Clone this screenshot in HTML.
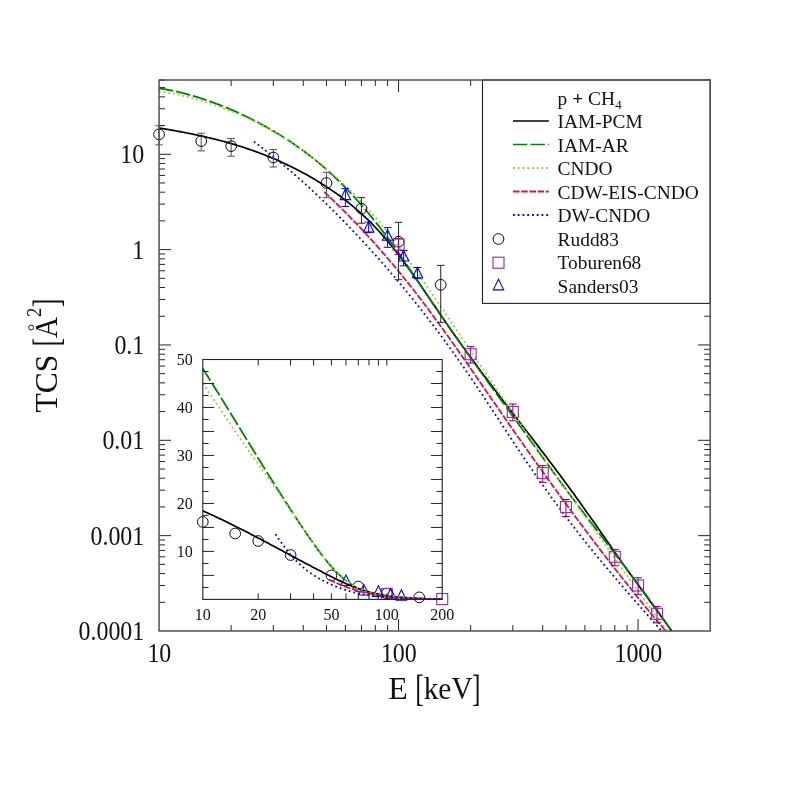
<!DOCTYPE html>
<html><head><meta charset="utf-8"><title>p + CH4 TCS</title>
<style>html,body{margin:0;padding:0;background:#fff;}svg{display:block;}text{font-family:"Liberation Serif",serif;fill:#111;}</style>
</head><body>
<svg width="790" height="790" viewBox="0 0 790 790" style="will-change:transform">
<rect x="0" y="0" width="790" height="790" fill="#fff"/>
<defs><clipPath id="cm"><rect x="159.1" y="80.0" width="551.2" height="551.0"/></clipPath>
<clipPath id="ci"><rect x="202.8" y="359.5" width="247.4" height="239.9"/></clipPath></defs>
<g clip-path="url(#cm)" fill="none" stroke-linecap="butt">
<path d="M159.00 128.00 L160.74 128.29 L162.48 128.57 L164.23 128.86 L165.97 129.15 L167.71 129.45 L169.45 129.75 L171.20 130.05 L172.94 130.36 L174.68 130.67 L176.42 130.98 L178.17 131.30 L179.91 131.62 L181.65 131.95 L183.39 132.28 L185.14 132.62 L186.88 132.96 L188.62 133.30 L190.36 133.65 L192.11 134.01 L193.85 134.37 L195.59 134.74 L197.33 135.11 L199.08 135.49 L200.82 135.87 L202.56 136.26 L204.30 136.65 L206.05 137.06 L207.79 137.46 L209.53 137.88 L211.27 138.30 L213.02 138.72 L214.76 139.16 L216.50 139.60 L218.24 140.05 L219.99 140.50 L221.73 140.96 L223.47 141.43 L225.21 141.91 L226.96 142.39 L228.70 142.89 L230.44 143.39 L232.18 143.89 L233.93 144.41 L235.67 144.93 L237.41 145.47 L239.15 146.01 L240.90 146.56 L242.64 147.12 L244.38 147.68 L246.12 148.26 L247.87 148.84 L249.61 149.44 L251.35 150.04 L253.09 150.66 L254.84 151.28 L256.58 151.91 L258.32 152.56 L260.06 153.21 L261.81 153.87 L263.55 154.54 L265.29 155.23 L267.03 155.92 L268.78 156.63 L270.52 157.34 L272.26 158.07 L274.00 158.81 L275.75 159.55 L277.49 160.31 L279.23 161.08 L280.97 161.87 L282.72 162.66 L284.46 163.47 L286.20 164.28 L287.94 165.11 L289.69 165.95 L291.43 166.81 L293.17 167.68 L294.91 168.55 L296.66 169.45 L298.40 170.35 L300.14 171.27 L301.88 172.20 L303.63 173.14 L305.37 174.10 L307.11 175.07 L308.85 176.05 L310.60 177.04 L312.34 178.06 L314.08 179.08 L315.82 180.12 L317.57 181.17 L319.31 182.24 L321.05 183.32 L322.79 184.41 L324.54 185.52 L326.28 186.65 L328.02 187.79 L329.76 188.95 L331.51 190.13 L333.25 191.33 L334.99 192.54 L336.73 193.77 L338.47 195.03 L340.22 196.30 L341.96 197.60 L343.70 198.91 L345.44 200.25 L347.19 201.62 L348.93 203.00 L350.67 204.41 L352.41 205.85 L354.16 207.31 L355.90 208.79 L357.64 210.31 L359.38 211.85 L361.13 213.42 L362.87 215.01 L364.61 216.64 L366.35 218.30 L368.10 219.98 L369.84 221.70 L371.58 223.45 L373.32 225.23 L375.07 227.04 L376.81 228.89 L378.55 230.77 L380.29 232.69 L382.04 234.64 L383.78 236.62 L385.52 238.65 L387.26 240.71 L389.01 242.80 L390.75 244.93 L392.49 247.09 L394.23 249.29 L395.98 251.52 L397.72 253.77 L399.46 256.05 L401.20 258.36 L402.95 260.70 L404.69 263.05 L406.43 265.43 L408.17 267.84 L409.92 270.26 L411.66 272.70 L413.40 275.16 L415.14 277.63 L416.89 280.12 L418.63 282.62 L420.37 285.13 L422.11 287.66 L423.86 290.19 L425.60 292.73 L427.34 295.28 L429.08 297.84 L430.83 300.39 L432.57 302.95 L434.31 305.52 L436.05 308.08 L437.80 310.64 L439.54 313.20 L441.28 315.75 L443.02 318.30 L444.77 320.84 L446.51 323.38 L448.25 325.90 L449.99 328.42 L451.74 330.92 L453.48 333.41 L455.22 335.89 L456.96 338.36 L458.71 340.82 L460.45 343.26 L462.19 345.70 L463.93 348.13 L465.68 350.54 L467.42 352.95 L469.16 355.34 L470.90 357.73 L472.65 360.11 L474.39 362.48 L476.13 364.84 L477.87 367.20 L479.62 369.55 L481.36 371.89 L483.10 374.22 L484.84 376.55 L486.59 378.87 L488.33 381.18 L490.07 383.49 L491.81 385.79 L493.56 388.09 L495.30 390.39 L497.04 392.68 L498.78 394.96 L500.53 397.25 L502.27 399.52 L504.01 401.80 L505.75 404.07 L507.49 406.34 L509.24 408.61 L510.98 410.88 L512.72 413.14 L514.46 415.41 L516.21 417.67 L517.95 419.93 L519.69 422.19 L521.43 424.45 L523.18 426.72 L524.92 428.98 L526.66 431.24 L528.40 433.51 L530.15 435.77 L531.89 438.04 L533.63 440.31 L535.37 442.58 L537.12 444.86 L538.86 447.14 L540.60 449.42 L542.34 451.70 L544.09 453.99 L545.83 456.29 L547.57 458.58 L549.31 460.89 L551.06 463.20 L552.80 465.51 L554.54 467.83 L556.28 470.16 L558.03 472.49 L559.77 474.83 L561.51 477.17 L563.25 479.53 L565.00 481.89 L566.74 484.26 L568.48 486.64 L570.22 489.02 L571.97 491.42 L573.71 493.82 L575.45 496.24 L577.19 498.66 L578.94 501.09 L580.68 503.54 L582.42 505.99 L584.16 508.45 L585.91 510.92 L587.65 513.39 L589.39 515.87 L591.13 518.35 L592.88 520.84 L594.62 523.34 L596.36 525.83 L598.10 528.33 L599.85 530.83 L601.59 533.33 L603.33 535.83 L605.07 538.33 L606.82 540.83 L608.56 543.33 L610.30 545.83 L612.04 548.32 L613.79 550.81 L615.53 553.29 L617.27 555.77 L619.01 558.24 L620.76 560.71 L622.50 563.17 L624.24 565.62 L625.98 568.06 L627.73 570.50 L629.47 572.92 L631.21 575.34 L632.95 577.75 L634.70 580.16 L636.44 582.56 L638.18 584.95 L639.92 587.34 L641.67 589.73 L643.41 592.11 L645.15 594.49 L646.89 596.87 L648.64 599.25 L650.38 601.63 L652.12 604.01 L653.86 606.39 L655.61 608.77 L657.35 611.16 L659.09 613.55 L660.83 615.94 L662.58 618.34 L664.32 620.75 L666.06 623.16 L667.80 625.57 L669.55 628.00 L671.29 630.43 L673.03 632.87 L674.77 635.32 L676.52 637.79 L678.26 640.26 L680.00 642.74" stroke="#000" stroke-width="1.7"/>
<path d="M159.00 88.25 L160.74 88.52 L162.48 88.81 L164.23 89.11 L165.97 89.43 L167.71 89.75 L169.45 90.09 L171.20 90.45 L172.94 90.81 L174.68 91.19 L176.42 91.57 L178.17 91.97 L179.91 92.39 L181.65 92.81 L183.39 93.25 L185.14 93.70 L186.88 94.16 L188.62 94.63 L190.36 95.11 L192.11 95.61 L193.85 96.11 L195.59 96.63 L197.33 97.16 L199.08 97.71 L200.82 98.26 L202.56 98.82 L204.30 99.40 L206.05 99.99 L207.79 100.59 L209.53 101.20 L211.27 101.82 L213.02 102.45 L214.76 103.09 L216.50 103.75 L218.24 104.41 L219.99 105.09 L221.73 105.78 L223.47 106.48 L225.21 107.18 L226.96 107.90 L228.70 108.63 L230.44 109.38 L232.18 110.13 L233.93 110.89 L235.67 111.66 L237.41 112.44 L239.15 113.24 L240.90 114.04 L242.64 114.85 L244.38 115.68 L246.12 116.51 L247.87 117.36 L249.61 118.21 L251.35 119.08 L253.09 119.96 L254.84 120.84 L256.58 121.74 L258.32 122.65 L260.06 123.57 L261.81 124.51 L263.55 125.45 L265.29 126.41 L267.03 127.38 L268.78 128.36 L270.52 129.36 L272.26 130.37 L274.00 131.39 L275.75 132.42 L277.49 133.47 L279.23 134.53 L280.97 135.61 L282.72 136.70 L284.46 137.80 L286.20 138.92 L287.94 140.05 L289.69 141.20 L291.43 142.36 L293.17 143.54 L294.91 144.74 L296.66 145.95 L298.40 147.18 L300.14 148.42 L301.88 149.69 L303.63 150.97 L305.37 152.26 L307.11 153.58 L308.85 154.91 L310.60 156.27 L312.34 157.64 L314.08 159.03 L315.82 160.45 L317.57 161.88 L319.31 163.33 L321.05 164.80 L322.79 166.30 L324.54 167.81 L326.28 169.35 L328.02 170.91 L329.76 172.49 L331.51 174.09 L333.25 175.71 L334.99 177.35 L336.73 179.02 L338.47 180.71 L340.22 182.42 L341.96 184.15 L343.70 185.90 L345.44 187.68 L347.19 189.48 L348.93 191.30 L350.67 193.14 L352.41 195.01 L354.16 196.90 L355.90 198.81 L357.64 200.75 L359.38 202.71 L361.13 204.69 L362.87 206.70 L364.61 208.73 L366.35 210.78 L368.10 212.86 L369.84 214.96 L371.58 217.08 L373.32 219.23 L375.07 221.40 L376.81 223.60 L378.55 225.82 L380.29 228.07 L382.04 230.34 L383.78 232.63 L385.52 234.95 L387.26 237.30 L389.01 239.66 L390.75 242.05 L392.49 244.46 L394.23 246.89 L395.98 249.34 L397.72 251.81 L399.46 254.29 L401.20 256.79 L402.95 259.30 L404.69 261.82 L406.43 264.36 L408.17 266.91 L409.92 269.47 L411.66 272.04 L413.40 274.61 L415.14 277.19 L416.89 279.78 L418.63 282.37 L420.37 284.97 L422.11 287.56 L423.86 290.16 L425.60 292.76 L427.34 295.36 L429.08 297.95 L430.83 300.54 L432.57 303.13 L434.31 305.72 L436.05 308.29 L437.80 310.86 L439.54 313.42 L441.28 315.97 L443.02 318.51 L444.77 321.05 L446.51 323.58 L448.25 326.10 L449.99 328.61 L451.74 331.11 L453.48 333.61 L455.22 336.10 L456.96 338.59 L458.71 341.07 L460.45 343.54 L462.19 346.01 L463.93 348.47 L465.68 350.92 L467.42 353.37 L469.16 355.82 L470.90 358.26 L472.65 360.70 L474.39 363.13 L476.13 365.56 L477.87 367.98 L479.62 370.41 L481.36 372.82 L483.10 375.24 L484.84 377.65 L486.59 380.06 L488.33 382.47 L490.07 384.87 L491.81 387.28 L493.56 389.68 L495.30 392.08 L497.04 394.48 L498.78 396.88 L500.53 399.27 L502.27 401.67 L504.01 404.07 L505.75 406.47 L507.49 408.86 L509.24 411.26 L510.98 413.66 L512.72 416.06 L514.46 418.46 L516.21 420.86 L517.95 423.26 L519.69 425.67 L521.43 428.07 L523.18 430.48 L524.92 432.89 L526.66 435.30 L528.40 437.71 L530.15 440.12 L531.89 442.53 L533.63 444.95 L535.37 447.36 L537.12 449.77 L538.86 452.17 L540.60 454.58 L542.34 456.99 L544.09 459.39 L545.83 461.80 L547.57 464.20 L549.31 466.59 L551.06 468.99 L552.80 471.38 L554.54 473.77 L556.28 476.15 L558.03 478.54 L559.77 480.91 L561.51 483.29 L563.25 485.65 L565.00 488.02 L566.74 490.38 L568.48 492.73 L570.22 495.08 L571.97 497.42 L573.71 499.75 L575.45 502.08 L577.19 504.40 L578.94 506.72 L580.68 509.03 L582.42 511.34 L584.16 513.64 L585.91 515.93 L587.65 518.22 L589.39 520.51 L591.13 522.79 L592.88 525.07 L594.62 527.35 L596.36 529.63 L598.10 531.90 L599.85 534.17 L601.59 536.44 L603.33 538.71 L605.07 540.98 L606.82 543.25 L608.56 545.52 L610.30 547.79 L612.04 550.06 L613.79 552.33 L615.53 554.60 L617.27 556.88 L619.01 559.15 L620.76 561.43 L622.50 563.72 L624.24 566.00 L625.98 568.30 L627.73 570.59 L629.47 572.89 L631.21 575.19 L632.95 577.50 L634.70 579.82 L636.44 582.14 L638.18 584.47 L639.92 586.81 L641.67 589.15 L643.41 591.50 L645.15 593.86 L646.89 596.22 L648.64 598.60 L650.38 600.98 L652.12 603.38 L653.86 605.78 L655.61 608.19 L657.35 610.62 L659.09 613.05 L660.83 615.50 L662.58 617.96 L664.32 620.43 L666.06 622.91 L667.80 625.41 L669.55 627.92 L671.29 630.44 L673.03 632.97 L674.77 635.52 L676.52 638.09 L678.26 640.67 L680.00 643.27" stroke="#008000" stroke-width="1.8" stroke-dasharray="14.4 3"/>
<path d="M159.00 91.49 L160.74 91.70 L162.48 91.92 L164.23 92.17 L165.97 92.43 L167.71 92.71 L169.45 93.00 L171.20 93.31 L172.94 93.64 L174.68 93.98 L176.42 94.33 L178.17 94.70 L179.91 95.09 L181.65 95.48 L183.39 95.89 L185.14 96.32 L186.88 96.75 L188.62 97.20 L190.36 97.66 L192.11 98.13 L193.85 98.62 L195.59 99.11 L197.33 99.61 L199.08 100.12 L200.82 100.64 L202.56 101.17 L204.30 101.71 L206.05 102.26 L207.79 102.81 L209.53 103.37 L211.27 103.94 L213.02 104.52 L214.76 105.11 L216.50 105.70 L218.24 106.31 L219.99 106.92 L221.73 107.55 L223.47 108.18 L225.21 108.83 L226.96 109.48 L228.70 110.15 L230.44 110.82 L232.18 111.51 L233.93 112.21 L235.67 112.92 L237.41 113.64 L239.15 114.37 L240.90 115.12 L242.64 115.87 L244.38 116.64 L246.12 117.43 L247.87 118.22 L249.61 119.03 L251.35 119.85 L253.09 120.69 L254.84 121.54 L256.58 122.41 L258.32 123.29 L260.06 124.18 L261.81 125.09 L263.55 126.01 L265.29 126.94 L267.03 127.89 L268.78 128.86 L270.52 129.83 L272.26 130.83 L274.00 131.83 L275.75 132.85 L277.49 133.89 L279.23 134.93 L280.97 136.00 L282.72 137.07 L284.46 138.16 L286.20 139.26 L287.94 140.38 L289.69 141.51 L291.43 142.66 L293.17 143.82 L294.91 144.99 L296.66 146.18 L298.40 147.38 L300.14 148.59 L301.88 149.82 L303.63 151.07 L305.37 152.32 L307.11 153.60 L308.85 154.89 L310.60 156.19 L312.34 157.51 L314.08 158.84 L315.82 160.19 L317.57 161.56 L319.31 162.94 L321.05 164.34 L322.79 165.75 L324.54 167.19 L326.28 168.64 L328.02 170.10 L329.76 171.58 L331.51 173.09 L333.25 174.60 L334.99 176.14 L336.73 177.69 L338.47 179.27 L340.22 180.86 L341.96 182.47 L343.70 184.10 L345.44 185.75 L347.19 187.41 L348.93 189.10 L350.67 190.81 L352.41 192.54 L354.16 194.29 L355.90 196.05 L357.64 197.84 L359.38 199.66 L361.13 201.49 L362.87 203.34 L364.61 205.22 L366.35 207.12 L368.10 209.04 L369.84 210.98 L371.58 212.94 L373.32 214.93 L375.07 216.95 L376.81 218.98 L378.55 221.04 L380.29 223.12 L382.04 225.23 L383.78 227.36 L385.52 229.52 L387.26 231.70 L389.01 233.91 L390.75 236.13 L392.49 238.39 L394.23 240.66 L395.98 242.95 L397.72 245.26 L399.46 247.59 L401.20 249.95 L402.95 252.31 L404.69 254.70 L406.43 257.10 L408.17 259.52 L409.92 261.95 L411.66 264.39 L413.40 266.85 L415.14 269.32 L416.89 271.80 L418.63 274.29 L420.37 276.79 L422.11 279.30 L423.86 281.82 L425.60 284.35 L427.34 286.88 L429.08 289.42 L430.83 291.97 L432.57 294.52 L434.31 297.07 L436.05 299.63 L437.80 302.19 L439.54 304.75 L441.28 307.31 L443.02 309.88 L444.77 312.45 L446.51 315.02 L448.25 317.59 L449.99 320.16 L451.74 322.74 L453.48 325.32 L455.22 327.90 L456.96 330.48 L458.71 333.06 L460.45 335.64 L462.19 338.22 L463.93 340.80 L465.68 343.38 L467.42 345.97 L469.16 348.55 L470.90 351.13 L472.65 353.71 L474.39 356.30 L476.13 358.88 L477.87 361.46 L479.62 364.04 L481.36 366.62 L483.10 369.19 L484.84 371.77 L486.59 374.35 L488.33 376.92 L490.07 379.49 L491.81 382.06 L493.56 384.63 L495.30 387.19 L497.04 389.76 L498.78 392.32 L500.53 394.88 L502.27 397.43 L504.01 399.99 L505.75 402.54 L507.49 405.09 L509.24 407.64 L510.98 410.19 L512.72 412.73 L514.46 415.27 L516.21 417.81 L517.95 420.35 L519.69 422.88 L521.43 425.41 L523.18 427.94 L524.92 430.47 L526.66 432.99 L528.40 435.51 L530.15 438.03 L531.89 440.54 L533.63 443.06 L535.37 445.57 L537.12 448.08 L538.86 450.58 L540.60 453.09 L542.34 455.59 L544.09 458.09 L545.83 460.59 L547.57 463.09 L549.31 465.58 L551.06 468.08 L552.80 470.57 L554.54 473.07 L556.28 475.56 L558.03 478.05 L559.77 480.54 L561.51 483.02 L563.25 485.51 L565.00 488.00 L566.74 490.48 L568.48 492.97 L570.22 495.45 L571.97 497.93 L573.71 500.41 L575.45 502.89 L577.19 505.37 L578.94 507.85 L580.68 510.33 L582.42 512.80 L584.16 515.27 L585.91 517.75 L587.65 520.22 L589.39 522.69 L591.13 525.15 L592.88 527.62 L594.62 530.08 L596.36 532.55 L598.10 535.01 L599.85 537.47 L601.59 539.93 L603.33 542.38 L605.07 544.84 L606.82 547.29 L608.56 549.74 L610.30 552.19 L612.04 554.64 L613.79 557.09 L615.53 559.53 L617.27 561.98 L619.01 564.42 L620.76 566.86 L622.50 569.29 L624.24 571.73 L625.98 574.16 L627.73 576.59 L629.47 579.02 L631.21 581.44 L632.95 583.87 L634.70 586.29 L636.44 588.71 L638.18 591.13 L639.92 593.54 L641.67 595.95 L643.41 598.36 L645.15 600.77 L646.89 603.17 L648.64 605.57 L650.38 607.97 L652.12 610.37 L653.86 612.76 L655.61 615.15 L657.35 617.54 L659.09 619.92 L660.83 622.30 L662.58 624.68 L664.32 627.05 L666.06 629.42 L667.80 631.79 L669.55 634.15 L671.29 636.51 L673.03 638.87 L674.77 641.22 L676.52 643.57 L678.26 645.91 L680.00 648.25" stroke="#9acd32" stroke-width="1.8" stroke-dasharray="1.8 2.95"/>
<path d="M324.30 191.88 L325.47 192.98 L326.65 194.09 L327.82 195.20 L328.99 196.31 L330.16 197.44 L331.34 198.56 L332.51 199.69 L333.68 200.82 L334.86 201.96 L336.03 203.10 L337.20 204.25 L338.37 205.40 L339.55 206.56 L340.72 207.72 L341.89 208.88 L343.07 210.05 L344.24 211.23 L345.41 212.41 L346.59 213.59 L347.76 214.78 L348.93 215.97 L350.10 217.17 L351.28 218.38 L352.45 219.59 L353.62 220.80 L354.80 222.02 L355.97 223.24 L357.14 224.47 L358.31 225.70 L359.49 226.94 L360.66 228.18 L361.83 229.43 L363.01 230.68 L364.18 231.94 L365.35 233.21 L366.52 234.48 L367.70 235.75 L368.87 237.03 L370.04 238.31 L371.22 239.60 L372.39 240.90 L373.56 242.20 L374.74 243.51 L375.91 244.82 L377.08 246.13 L378.25 247.46 L379.43 248.78 L380.60 250.12 L381.77 251.46 L382.95 252.80 L384.12 254.15 L385.29 255.51 L386.46 256.87 L387.64 258.23 L388.81 259.61 L389.98 260.99 L391.16 262.37 L392.33 263.76 L393.50 265.16 L394.67 266.56 L395.85 267.96 L397.02 269.38 L398.19 270.80 L399.37 272.22 L400.54 273.65 L401.71 275.09 L402.88 276.53 L404.06 277.98 L405.23 279.44 L406.40 280.90 L407.58 282.37 L408.75 283.84 L409.92 285.32 L411.10 286.81 L412.27 288.30 L413.44 289.80 L414.61 291.30 L415.79 292.81 L416.96 294.33 L418.13 295.85 L419.31 297.38 L420.48 298.91 L421.65 300.45 L422.82 302.00 L424.00 303.55 L425.17 305.11 L426.34 306.67 L427.52 308.23 L428.69 309.81 L429.86 311.38 L431.03 312.96 L432.21 314.55 L433.38 316.14 L434.55 317.74 L435.73 319.34 L436.90 320.94 L438.07 322.55 L439.25 324.16 L440.42 325.78 L441.59 327.40 L442.76 329.02 L443.94 330.65 L445.11 332.28 L446.28 333.92 L447.46 335.56 L448.63 337.20 L449.80 338.85 L450.97 340.49 L452.15 342.15 L453.32 343.80 L454.49 345.46 L455.67 347.12 L456.84 348.78 L458.01 350.45 L459.18 352.12 L460.36 353.79 L461.53 355.46 L462.70 357.14 L463.88 358.82 L465.05 360.50 L466.22 362.18 L467.39 363.86 L468.57 365.55 L469.74 367.23 L470.91 368.92 L472.09 370.61 L473.26 372.30 L474.43 374.00 L475.61 375.69 L476.78 377.39 L477.95 379.08 L479.12 380.78 L480.30 382.48 L481.47 384.18 L482.64 385.87 L483.82 387.57 L484.99 389.27 L486.16 390.97 L487.33 392.67 L488.51 394.37 L489.68 396.07 L490.85 397.78 L492.03 399.48 L493.20 401.18 L494.37 402.88 L495.54 404.57 L496.72 406.27 L497.89 407.97 L499.06 409.67 L500.24 411.36 L501.41 413.06 L502.58 414.75 L503.76 416.45 L504.93 418.14 L506.10 419.83 L507.27 421.52 L508.45 423.21 L509.62 424.89 L510.79 426.58 L511.97 428.26 L513.14 429.94 L514.31 431.62 L515.48 433.30 L516.66 434.98 L517.83 436.65 L519.00 438.33 L520.18 440.00 L521.35 441.67 L522.52 443.34 L523.69 445.01 L524.87 446.68 L526.04 448.34 L527.21 450.00 L528.39 451.67 L529.56 453.33 L530.73 454.98 L531.91 456.64 L533.08 458.30 L534.25 459.95 L535.42 461.60 L536.60 463.25 L537.77 464.90 L538.94 466.54 L540.12 468.19 L541.29 469.83 L542.46 471.47 L543.63 473.11 L544.81 474.75 L545.98 476.38 L547.15 478.01 L548.33 479.65 L549.50 481.27 L550.67 482.90 L551.84 484.53 L553.02 486.15 L554.19 487.77 L555.36 489.39 L556.54 491.01 L557.71 492.63 L558.88 494.24 L560.05 495.85 L561.23 497.46 L562.40 499.07 L563.57 500.67 L564.75 502.28 L565.92 503.88 L567.09 505.48 L568.27 507.07 L569.44 508.67 L570.61 510.26 L571.78 511.85 L572.96 513.44 L574.13 515.03 L575.30 516.61 L576.48 518.19 L577.65 519.77 L578.82 521.35 L579.99 522.93 L581.17 524.50 L582.34 526.07 L583.51 527.64 L584.69 529.20 L585.86 530.77 L587.03 532.33 L588.20 533.89 L589.38 535.44 L590.55 537.00 L591.72 538.55 L592.90 540.10 L594.07 541.64 L595.24 543.19 L596.42 544.73 L597.59 546.27 L598.76 547.81 L599.93 549.34 L601.11 550.87 L602.28 552.40 L603.45 553.93 L604.63 555.45 L605.80 556.97 L606.97 558.49 L608.14 560.01 L609.32 561.52 L610.49 563.04 L611.66 564.54 L612.84 566.05 L614.01 567.55 L615.18 569.05 L616.35 570.55 L617.53 572.05 L618.70 573.54 L619.87 575.03 L621.05 576.52 L622.22 578.00 L623.39 579.48 L624.56 580.96 L625.74 582.44 L626.91 583.91 L628.08 585.38 L629.26 586.85 L630.43 588.31 L631.60 589.77 L632.78 591.23 L633.95 592.69 L635.12 594.14 L636.29 595.59 L637.47 597.04 L638.64 598.48 L639.81 599.92 L640.99 601.36 L642.16 602.80 L643.33 604.23 L644.50 605.66 L645.68 607.08 L646.85 608.51 L648.02 609.93 L649.20 611.34 L650.37 612.76 L651.54 614.17 L652.71 615.58 L653.89 616.98 L655.06 618.38 L656.23 619.78 L657.41 621.17 L658.58 622.57 L659.75 623.95 L660.93 625.34 L662.10 626.72 L663.27 628.10 L664.44 629.48 L665.62 630.85 L666.79 632.22 L667.96 633.58 L669.14 634.94 L670.31 636.30 L671.48 637.66 L672.65 639.01 L673.83 640.36 L675.00 641.71" stroke="#dc143c" stroke-width="1.8" stroke-dasharray="6.6 1.6"/>
<path d="M253.90 141.62 L255.29 142.66 L256.68 143.70 L258.07 144.76 L259.47 145.81 L260.86 146.88 L262.25 147.95 L263.64 149.03 L265.03 150.11 L266.42 151.20 L267.82 152.29 L269.21 153.40 L270.60 154.50 L271.99 155.62 L273.38 156.74 L274.77 157.86 L276.17 159.00 L277.56 160.14 L278.95 161.28 L280.34 162.43 L281.73 163.59 L283.12 164.75 L284.52 165.92 L285.91 167.10 L287.30 168.28 L288.69 169.46 L290.08 170.66 L291.47 171.86 L292.87 173.06 L294.26 174.27 L295.65 175.49 L297.04 176.72 L298.43 177.95 L299.82 179.18 L301.22 180.42 L302.61 181.67 L304.00 182.92 L305.39 184.18 L306.78 185.45 L308.17 186.72 L309.57 188.00 L310.96 189.28 L312.35 190.57 L313.74 191.87 L315.13 193.17 L316.52 194.47 L317.92 195.79 L319.31 197.11 L320.70 198.43 L322.09 199.76 L323.48 201.10 L324.87 202.44 L326.27 203.79 L327.66 205.14 L329.05 206.51 L330.44 207.87 L331.83 209.24 L333.22 210.62 L334.62 212.00 L336.01 213.39 L337.40 214.79 L338.79 216.19 L340.18 217.60 L341.57 219.01 L342.96 220.43 L344.36 221.85 L345.75 223.28 L347.14 224.72 L348.53 226.16 L349.92 227.60 L351.31 229.06 L352.71 230.52 L354.10 231.98 L355.49 233.45 L356.88 234.93 L358.27 236.41 L359.66 237.89 L361.06 239.39 L362.45 240.89 L363.84 242.39 L365.23 243.90 L366.62 245.42 L368.01 246.94 L369.41 248.46 L370.80 250.00 L372.19 251.54 L373.58 253.08 L374.97 254.63 L376.36 256.19 L377.76 257.75 L379.15 259.32 L380.54 260.90 L381.93 262.48 L383.32 264.07 L384.71 265.66 L386.11 267.26 L387.50 268.87 L388.89 270.48 L390.28 272.10 L391.67 273.73 L393.06 275.36 L394.46 277.00 L395.85 278.64 L397.24 280.29 L398.63 281.95 L400.02 283.62 L401.41 285.29 L402.81 286.96 L404.20 288.65 L405.59 290.34 L406.98 292.04 L408.37 293.74 L409.76 295.45 L411.16 297.17 L412.55 298.90 L413.94 300.63 L415.33 302.37 L416.72 304.11 L418.11 305.87 L419.51 307.63 L420.90 309.39 L422.29 311.17 L423.68 312.95 L425.07 314.74 L426.46 316.53 L427.85 318.34 L429.25 320.15 L430.64 321.97 L432.03 323.79 L433.42 325.62 L434.81 327.46 L436.20 329.31 L437.60 331.16 L438.99 333.03 L440.38 334.90 L441.77 336.77 L443.16 338.66 L444.55 340.55 L445.95 342.45 L447.34 344.36 L448.73 346.27 L450.12 348.19 L451.51 350.13 L452.90 352.06 L454.30 354.01 L455.69 355.97 L457.08 357.93 L458.47 359.90 L459.86 361.88 L461.25 363.86 L462.65 365.86 L464.04 367.86 L465.43 369.87 L466.82 371.89 L468.21 373.92 L469.60 375.95 L471.00 377.99 L472.39 380.04 L473.78 382.10 L475.17 384.16 L476.56 386.23 L477.95 388.31 L479.35 390.39 L480.74 392.48 L482.13 394.57 L483.52 396.66 L484.91 398.76 L486.30 400.87 L487.70 402.98 L489.09 405.09 L490.48 407.20 L491.87 409.32 L493.26 411.43 L494.65 413.55 L496.05 415.67 L497.44 417.80 L498.83 419.92 L500.22 422.04 L501.61 424.16 L503.00 426.28 L504.39 428.41 L505.79 430.53 L507.18 432.64 L508.57 434.76 L509.96 436.88 L511.35 438.99 L512.74 441.10 L514.14 443.20 L515.53 445.30 L516.92 447.40 L518.31 449.50 L519.70 451.58 L521.09 453.67 L522.49 455.75 L523.88 457.82 L525.27 459.89 L526.66 461.95 L528.05 464.00 L529.44 466.05 L530.84 468.08 L532.23 470.11 L533.62 472.14 L535.01 474.15 L536.40 476.16 L537.79 478.15 L539.19 480.14 L540.58 482.12 L541.97 484.10 L543.36 486.06 L544.75 488.02 L546.14 489.97 L547.54 491.91 L548.93 493.84 L550.32 495.77 L551.71 497.69 L553.10 499.60 L554.49 501.50 L555.89 503.39 L557.28 505.28 L558.67 507.16 L560.06 509.03 L561.45 510.90 L562.84 512.75 L564.24 514.60 L565.63 516.45 L567.02 518.28 L568.41 520.11 L569.80 521.93 L571.19 523.75 L572.59 525.56 L573.98 527.36 L575.37 529.15 L576.76 530.94 L578.15 532.72 L579.54 534.49 L580.94 536.26 L582.33 538.02 L583.72 539.77 L585.11 541.52 L586.50 543.26 L587.89 544.99 L589.28 546.72 L590.68 548.44 L592.07 550.16 L593.46 551.87 L594.85 553.57 L596.24 555.27 L597.63 556.96 L599.03 558.65 L600.42 560.33 L601.81 562.01 L603.20 563.68 L604.59 565.34 L605.98 567.01 L607.38 568.66 L608.77 570.31 L610.16 571.96 L611.55 573.61 L612.94 575.25 L614.33 576.88 L615.73 578.51 L617.12 580.14 L618.51 581.77 L619.90 583.39 L621.29 585.01 L622.68 586.62 L624.08 588.23 L625.47 589.84 L626.86 591.45 L628.25 593.05 L629.64 594.65 L631.03 596.25 L632.43 597.85 L633.82 599.44 L635.21 601.03 L636.60 602.63 L637.99 604.21 L639.38 605.80 L640.78 607.39 L642.17 608.97 L643.56 610.56 L644.95 612.14 L646.34 613.72 L647.73 615.30 L649.13 616.88 L650.52 618.46 L651.91 620.04 L653.30 621.62 L654.69 623.20 L656.08 624.78 L657.48 626.35 L658.87 627.93 L660.26 629.51 L661.65 631.09 L663.04 632.68 L664.43 634.26 L665.83 635.84 L667.22 637.42 L668.61 639.01 L670.00 640.60" stroke="#0000ff" stroke-width="1.8" stroke-dasharray="1.8 2.95"/>
</g>
<g>
<path d="M159.05 125.80 V144.90 M155.25 125.80 H162.85 M155.25 144.90 H162.85" stroke="#505050" stroke-width="1.00" fill="none"/>
<circle cx="159.05" cy="134.40" r="5.35" fill="none" stroke="#000" stroke-width="0.95"/>
<path d="M201.22 133.20 V150.90 M197.42 133.20 H205.02 M197.42 150.90 H205.02" stroke="#505050" stroke-width="1.00" fill="none"/>
<circle cx="201.22" cy="141.10" r="5.35" fill="none" stroke="#000" stroke-width="0.95"/>
<path d="M231.15 138.50 V156.20 M227.35 138.50 H234.95 M227.35 156.20 H234.95" stroke="#505050" stroke-width="1.00" fill="none"/>
<circle cx="231.15" cy="146.10" r="5.35" fill="none" stroke="#000" stroke-width="0.95"/>
<path d="M273.32 149.50 V167.00 M269.52 149.50 H277.12 M269.52 167.00 H277.12" stroke="#505050" stroke-width="1.00" fill="none"/>
<circle cx="273.32" cy="157.50" r="5.35" fill="none" stroke="#000" stroke-width="0.95"/>
<path d="M326.45 172.30 V197.60 M322.65 172.30 H330.25 M322.65 197.60 H330.25" stroke="#505050" stroke-width="1.00" fill="none"/>
<circle cx="326.45" cy="183.00" r="5.35" fill="none" stroke="#000" stroke-width="0.95"/>
<path d="M361.45 197.60 V223.20 M357.65 197.60 H365.25 M357.65 223.20 H365.25" stroke="#262626" stroke-width="1.00" fill="none"/>
<circle cx="361.45" cy="208.60" r="5.35" fill="none" stroke="#000" stroke-width="0.95"/>
<path d="M398.55 222.30 V279.70 M394.75 222.30 H402.35 M394.75 279.70 H402.35" stroke="#262626" stroke-width="1.00" fill="none"/>
<circle cx="398.55" cy="241.70" r="5.35" fill="none" stroke="#000" stroke-width="0.95"/>
<path d="M440.72 265.40 V322.40 M436.92 265.40 H444.52 M436.92 322.40 H444.52" stroke="#262626" stroke-width="1.00" fill="none"/>
<circle cx="440.72" cy="284.80" r="5.35" fill="none" stroke="#000" stroke-width="0.95"/>
<path d="M398.55 238.50 V254.50 M394.75 238.50 H402.35 M394.75 254.50 H402.35" stroke="#800080" stroke-width="1.00" fill="none"/>
<rect x="393.05" y="239.10" width="11.0" height="11.0" fill="none" stroke="#993399" stroke-width="1.15"/>
<path d="M470.65 346.60 V363.10 M466.85 346.60 H474.45 M466.85 363.10 H474.45" stroke="#800080" stroke-width="1.00" fill="none"/>
<rect x="465.15" y="348.70" width="11.0" height="11.0" fill="none" stroke="#993399" stroke-width="1.15"/>
<path d="M512.82 404.00 V420.80 M509.02 404.00 H516.62 M509.02 420.80 H516.62" stroke="#800080" stroke-width="1.00" fill="none"/>
<rect x="507.32" y="406.40" width="11.0" height="11.0" fill="none" stroke="#993399" stroke-width="1.15"/>
<path d="M542.74 465.60 V482.40 M538.94 465.60 H546.54 M538.94 482.40 H546.54" stroke="#800080" stroke-width="1.00" fill="none"/>
<rect x="537.24" y="467.50" width="11.0" height="11.0" fill="none" stroke="#993399" stroke-width="1.15"/>
<path d="M565.95 499.50 V516.50 M562.15 499.50 H569.75 M562.15 516.50 H569.75" stroke="#800080" stroke-width="1.00" fill="none"/>
<rect x="560.45" y="501.60" width="11.0" height="11.0" fill="none" stroke="#993399" stroke-width="1.15"/>
<path d="M614.84 549.40 V565.80 M611.04 549.40 H618.64 M611.04 565.80 H618.64" stroke="#800080" stroke-width="1.00" fill="none"/>
<rect x="609.34" y="551.30" width="11.0" height="11.0" fill="none" stroke="#993399" stroke-width="1.15"/>
<path d="M638.05 577.70 V594.30 M634.25 577.70 H641.85 M634.25 594.30 H641.85" stroke="#800080" stroke-width="1.00" fill="none"/>
<rect x="632.55" y="579.90" width="11.0" height="11.0" fill="none" stroke="#993399" stroke-width="1.15"/>
<path d="M657.01 606.60 V622.90 M653.21 606.60 H660.81 M653.21 622.90 H660.81" stroke="#800080" stroke-width="1.00" fill="none"/>
<rect x="651.51" y="608.30" width="11.0" height="11.0" fill="none" stroke="#993399" stroke-width="1.15"/>
<path d="M345.42 188.60 V206.50 M341.62 188.60 H349.22 M341.62 206.50 H349.22" stroke="#0000ff" stroke-width="1.00" fill="none"/>
<path d="M345.42 189.05 L350.62 199.65 L340.22 199.65 Z" fill="none" stroke="#0000ff" stroke-width="1.1" stroke-linejoin="miter"/>
<path d="M368.63 222.00 V232.40 M364.83 222.00 H372.43 M364.83 232.40 H372.43" stroke="#0000ff" stroke-width="1.00" fill="none"/>
<path d="M368.63 221.55 L373.83 232.15 L363.43 232.15 Z" fill="none" stroke="#0000ff" stroke-width="1.1" stroke-linejoin="miter"/>
<path d="M387.59 227.60 V247.30 M383.79 227.60 H391.39 M383.79 247.30 H391.39" stroke="#0000ff" stroke-width="1.00" fill="none"/>
<path d="M387.59 229.65 L392.79 240.25 L382.39 240.25 Z" fill="none" stroke="#0000ff" stroke-width="1.1" stroke-linejoin="miter"/>
<path d="M403.62 250.50 V265.80 M399.82 250.50 H407.42 M399.82 265.80 H407.42" stroke="#0000ff" stroke-width="1.00" fill="none"/>
<path d="M403.62 250.45 L408.82 261.05 L398.42 261.05 Z" fill="none" stroke="#0000ff" stroke-width="1.1" stroke-linejoin="miter"/>
<path d="M417.51 267.50 V278.60 M413.71 267.50 H421.31 M413.71 278.60 H421.31" stroke="#0000ff" stroke-width="1.00" fill="none"/>
<path d="M417.51 267.15 L422.71 277.75 L412.31 277.75 Z" fill="none" stroke="#0000ff" stroke-width="1.1" stroke-linejoin="miter"/>
</g>
<path d="M231.15 631.00 v-6.0 M231.15 80.00 v6.0 M273.32 631.00 v-6.0 M273.32 80.00 v6.0 M303.24 631.00 v-6.0 M303.24 80.00 v6.0 M326.45 631.00 v-6.0 M326.45 80.00 v6.0 M345.42 631.00 v-6.0 M345.42 80.00 v6.0 M361.45 631.00 v-6.0 M361.45 80.00 v6.0 M375.34 631.00 v-6.0 M375.34 80.00 v6.0 M387.59 631.00 v-6.0 M387.59 80.00 v6.0 M398.55 631.00 v-12.0 M398.55 80.00 v12.0 M470.65 631.00 v-6.0 M470.65 80.00 v6.0 M512.82 631.00 v-6.0 M512.82 80.00 v6.0 M542.74 631.00 v-6.0 M542.74 80.00 v6.0 M565.95 631.00 v-6.0 M565.95 80.00 v6.0 M584.92 631.00 v-6.0 M584.92 80.00 v6.0 M600.95 631.00 v-6.0 M600.95 80.00 v6.0 M614.84 631.00 v-6.0 M614.84 80.00 v6.0 M627.09 631.00 v-6.0 M627.09 80.00 v6.0 M638.05 631.00 v-12.0 M638.05 80.00 v12.0 M159.05 602.30 h6.0 M710.20 602.30 h-6.0 M159.05 585.51 h6.0 M710.20 585.51 h-6.0 M159.05 573.59 h6.0 M710.20 573.59 h-6.0 M159.05 564.35 h6.0 M710.20 564.35 h-6.0 M159.05 556.80 h6.0 M710.20 556.80 h-6.0 M159.05 550.42 h6.0 M710.20 550.42 h-6.0 M159.05 544.89 h6.0 M710.20 544.89 h-6.0 M159.05 540.01 h6.0 M710.20 540.01 h-6.0 M159.05 535.65 h12.0 M710.20 535.65 h-12.0 M159.05 506.95 h6.0 M710.20 506.95 h-6.0 M159.05 490.16 h6.0 M710.20 490.16 h-6.0 M159.05 478.24 h6.0 M710.20 478.24 h-6.0 M159.05 469.00 h6.0 M710.20 469.00 h-6.0 M159.05 461.45 h6.0 M710.20 461.45 h-6.0 M159.05 455.07 h6.0 M710.20 455.07 h-6.0 M159.05 449.54 h6.0 M710.20 449.54 h-6.0 M159.05 444.66 h6.0 M710.20 444.66 h-6.0 M159.05 440.30 h12.0 M710.20 440.30 h-12.0 M159.05 411.60 h6.0 M710.20 411.60 h-6.0 M159.05 394.81 h6.0 M710.20 394.81 h-6.0 M159.05 382.89 h6.0 M710.20 382.89 h-6.0 M159.05 373.65 h6.0 M710.20 373.65 h-6.0 M159.05 366.10 h6.0 M710.20 366.10 h-6.0 M159.05 359.72 h6.0 M710.20 359.72 h-6.0 M159.05 354.19 h6.0 M710.20 354.19 h-6.0 M159.05 349.31 h6.0 M710.20 349.31 h-6.0 M159.05 344.95 h12.0 M710.20 344.95 h-12.0 M159.05 316.25 h6.0 M710.20 316.25 h-6.0 M159.05 299.46 h6.0 M710.20 299.46 h-6.0 M159.05 287.54 h6.0 M710.20 287.54 h-6.0 M159.05 278.30 h6.0 M710.20 278.30 h-6.0 M159.05 270.75 h6.0 M710.20 270.75 h-6.0 M159.05 264.37 h6.0 M710.20 264.37 h-6.0 M159.05 258.84 h6.0 M710.20 258.84 h-6.0 M159.05 253.96 h6.0 M710.20 253.96 h-6.0 M159.05 249.60 h12.0 M710.20 249.60 h-12.0 M159.05 220.90 h6.0 M710.20 220.90 h-6.0 M159.05 204.11 h6.0 M710.20 204.11 h-6.0 M159.05 192.19 h6.0 M710.20 192.19 h-6.0 M159.05 182.95 h6.0 M710.20 182.95 h-6.0 M159.05 175.40 h6.0 M710.20 175.40 h-6.0 M159.05 169.02 h6.0 M710.20 169.02 h-6.0 M159.05 163.49 h6.0 M710.20 163.49 h-6.0 M159.05 158.61 h6.0 M710.20 158.61 h-6.0 M159.05 154.25 h12.0 M710.20 154.25 h-12.0 M159.05 125.55 h6.0 M710.20 125.55 h-6.0 M159.05 108.76 h6.0 M710.20 108.76 h-6.0 M159.05 96.84 h6.0 M710.20 96.84 h-6.0 M159.05 87.60 h6.0 M710.20 87.60 h-6.0 M159.05 80.05 h6.0 M710.20 80.05 h-6.0" stroke="#262626" stroke-width="1.0" fill="none"/>
<text transform="translate(144.3 163.15) scale(0.9 1)" font-size="26.6" text-anchor="end">10</text>
<text transform="translate(144.3 258.50) scale(0.9 1)" font-size="26.6" text-anchor="end">1</text>
<text transform="translate(144.3 353.85) scale(0.9 1)" font-size="26.6" text-anchor="end">0.1</text>
<text transform="translate(144.3 449.20) scale(0.9 1)" font-size="26.6" text-anchor="end">0.01</text>
<text transform="translate(144.3 544.55) scale(0.9 1)" font-size="26.6" text-anchor="end">0.001</text>
<text transform="translate(144.3 639.90) scale(0.9 1)" font-size="26.6" text-anchor="end">0.0001</text>
<text transform="translate(159.35 662.0) scale(0.9 1)" font-size="26.6" text-anchor="middle">10</text>
<text transform="translate(398.85 662.0) scale(0.9 1)" font-size="26.6" text-anchor="middle">100</text>
<text transform="translate(638.35 662.0) scale(0.9 1)" font-size="26.6" text-anchor="middle">1000</text>
<g font-size="32">
<text x="388.2" y="698.8">E</text>
<text transform="translate(415.25 700.9) scale(0.8 1.17)">[</text>
<text x="423.7" y="698.8" textLength="48.9" lengthAdjust="spacingAndGlyphs">keV</text>
<text transform="translate(472.0 700.9) scale(0.8 1.17)">]</text>
</g>
<g transform="translate(57.3 412.1) rotate(-90)" font-size="32.5">
<text x="-0.5" y="0" textLength="58" lengthAdjust="spacingAndGlyphs">TCS</text>
<text transform="translate(65.65 2.1) scale(0.8 1.15)">[</text>
<text x="74.05" y="0" textLength="21" lengthAdjust="spacingAndGlyphs">A</text>
<circle cx="84.5" cy="-26.2" r="2.45" fill="none" stroke="#111" stroke-width="0.95"/>
<text x="95.0" y="-16.2" font-size="22" textLength="9.4" lengthAdjust="spacingAndGlyphs">2</text>
<text transform="translate(104.85 2.1) scale(0.8 1.15)">]</text>
</g>
<rect x="202.80" y="359.50" width="239.40" height="239.90" fill="#fff" stroke="none"/>
<g>
<circle cx="202.80" cy="521.91" r="5.35" fill="none" stroke="#000" stroke-width="0.95"/>
<circle cx="235.20" cy="533.49" r="5.35" fill="none" stroke="#000" stroke-width="0.95"/>
<circle cx="258.19" cy="540.98" r="5.35" fill="none" stroke="#000" stroke-width="0.95"/>
<circle cx="290.59" cy="555.04" r="5.35" fill="none" stroke="#000" stroke-width="0.95"/>
<circle cx="331.42" cy="575.44" r="5.35" fill="none" stroke="#000" stroke-width="0.95"/>
<circle cx="358.30" cy="586.49" r="5.35" fill="none" stroke="#000" stroke-width="0.95"/>
<circle cx="386.81" cy="593.59" r="5.35" fill="none" stroke="#000" stroke-width="0.95"/>
<circle cx="419.21" cy="597.35" r="5.35" fill="none" stroke="#000" stroke-width="0.95"/>
<rect x="381.31" y="588.49" width="11.0" height="11.0" fill="none" stroke="#993399" stroke-width="1.15"/>
<rect x="436.70" y="593.52" width="11.0" height="11.0" fill="none" stroke="#993399" stroke-width="1.15"/>
<path d="M345.99 574.89 L351.19 585.49 L340.79 585.49 Z" fill="none" stroke="#0000ff" stroke-width="1.1" stroke-linejoin="miter"/>
<path d="M363.82 584.38 L369.02 594.98 L358.62 594.98 Z" fill="none" stroke="#0000ff" stroke-width="1.1" stroke-linejoin="miter"/>
<path d="M378.39 585.80 L383.59 596.40 L373.19 596.40 Z" fill="none" stroke="#0000ff" stroke-width="1.1" stroke-linejoin="miter"/>
<path d="M390.71 588.39 L395.91 598.99 L385.51 598.99 Z" fill="none" stroke="#0000ff" stroke-width="1.1" stroke-linejoin="miter"/>
<path d="M401.38 589.70 L406.58 600.30 L396.18 600.30 Z" fill="none" stroke="#0000ff" stroke-width="1.1" stroke-linejoin="miter"/>
</g>
<g fill="none" stroke-linecap="butt" clip-path="url(#ci)">
<path d="M202.70 368.33 L203.70 369.92 L204.70 371.51 L205.71 373.11 L206.71 374.70 L207.71 376.30 L208.71 377.90 L209.71 379.51 L210.72 381.11 L211.72 382.72 L212.72 384.33 L213.72 385.94 L214.73 387.55 L215.73 389.17 L216.73 390.78 L217.73 392.40 L218.73 394.02 L219.74 395.64 L220.74 397.26 L221.74 398.88 L222.74 400.51 L223.74 402.13 L224.75 403.76 L225.75 405.39 L226.75 407.01 L227.75 408.64 L228.75 410.27 L229.76 411.90 L230.76 413.53 L231.76 415.17 L232.76 416.80 L233.76 418.43 L234.77 420.06 L235.77 421.70 L236.77 423.33 L237.77 424.96 L238.78 426.60 L239.78 428.23 L240.78 429.87 L241.78 431.50 L242.78 433.13 L243.79 434.77 L244.79 436.40 L245.79 438.03 L246.79 439.66 L247.79 441.29 L248.80 442.93 L249.80 444.56 L250.80 446.19 L251.80 447.81 L252.80 449.44 L253.81 451.07 L254.81 452.70 L255.81 454.32 L256.81 455.94 L257.82 457.57 L258.82 459.19 L259.82 460.81 L260.82 462.43 L261.82 464.04 L262.83 465.66 L263.83 467.27 L264.83 468.89 L265.83 470.50 L266.83 472.11 L267.84 473.71 L268.84 475.32 L269.84 476.92 L270.84 478.52 L271.84 480.12 L272.85 481.72 L273.85 483.31 L274.85 484.90 L275.85 486.49 L276.85 488.08 L277.86 489.67 L278.86 491.25 L279.86 492.83 L280.86 494.40 L281.87 495.98 L282.87 497.55 L283.87 499.11 L284.87 500.68 L285.87 502.24 L286.88 503.80 L287.88 505.35 L288.88 506.90 L289.88 508.45 L290.88 510.00 L291.89 511.54 L292.89 513.07 L293.89 514.60 L294.89 516.13 L295.89 517.66 L296.90 519.18 L297.90 520.69 L298.90 522.20 L299.90 523.71 L300.91 525.21 L301.91 526.71 L302.91 528.20 L303.91 529.69 L304.91 531.17 L305.92 532.65 L306.92 534.12 L307.92 535.59 L308.92 537.05 L309.92 538.50 L310.93 539.94 L311.93 541.38 L312.93 542.80 L313.93 544.22 L314.93 545.62 L315.94 547.01 L316.94 548.39 L317.94 549.75 L318.94 551.11 L319.94 552.44 L320.95 553.77 L321.95 555.07 L322.95 556.36 L323.95 557.64 L324.96 558.89 L325.96 560.13 L326.96 561.35 L327.96 562.55 L328.96 563.74 L329.97 564.90 L330.97 566.04 L331.97 567.17 L332.97 568.27 L333.97 569.36 L334.98 570.42 L335.98 571.46 L336.98 572.48 L337.98 573.48 L338.98 574.46 L339.99 575.42 L340.99 576.35 L341.99 577.26 L342.99 578.14 L343.99 579.01 L345.00 579.84 L346.00 580.66 L347.00 581.45 L348.00 582.21 L349.01 582.95 L350.01 583.66 L351.01 584.35 L352.01 585.01 L353.01 585.65 L354.02 586.25 L355.02 586.84 L356.02 587.39 L357.02 587.93 L358.02 588.43 L359.03 588.92 L360.03 589.38 L361.03 589.82 L362.03 590.24 L363.03 590.64 L364.04 591.02 L365.04 591.38 L366.04 591.73 L367.04 592.05 L368.05 592.36 L369.05 592.65 L370.05 592.92 L371.05 593.18 L372.05 593.43 L373.06 593.66 L374.06 593.88 L375.06 594.08 L376.06 594.28 L377.06 594.46 L378.07 594.63 L379.07 594.80 L380.07 594.95 L381.07 595.09 L382.07 595.23 L383.08 595.36 L384.08 595.49 L385.08 595.60 L386.08 595.72 L387.08 595.82 L388.09 595.93 L389.09 596.03 L390.09 596.13 L391.09 596.22 L392.10 596.32 L393.10 596.41 L394.10 596.51 L395.10 596.60 L396.10 596.70 L397.11 596.79 L398.11 596.88 L399.11 596.97 L400.11 597.07 L401.11 597.16 L402.12 597.25 L403.12 597.33 L404.12 597.42 L405.12 597.51 L406.12 597.59 L407.13 597.68 L408.13 597.76 L409.13 597.84 L410.13 597.92 L411.14 597.99 L412.14 598.07 L413.14 598.14 L414.14 598.21 L415.14 598.28 L416.15 598.35 L417.15 598.42 L418.15 598.48 L419.15 598.54 L420.15 598.60 L421.16 598.65 L422.16 598.71 L423.16 598.76 L424.16 598.81 L425.16 598.85 L426.17 598.89 L427.17 598.93 L428.17 598.97 L429.17 599.00 L430.17 599.03 L431.18 599.06 L432.18 599.08 L433.18 599.10 L434.18 599.11 L435.19 599.12 L436.19 599.13 L437.19 599.14 L438.19 599.14 L439.19 599.13 L440.20 599.13 L441.20 599.11 L442.20 599.10" stroke="#008000" stroke-width="1.8" stroke-dasharray="14.4 3"/>
<path d="M202.70 510.84 L203.70 511.28 L204.70 511.72 L205.71 512.17 L206.71 512.62 L207.71 513.07 L208.71 513.52 L209.71 513.97 L210.72 514.43 L211.72 514.89 L212.72 515.35 L213.72 515.81 L214.73 516.28 L215.73 516.75 L216.73 517.21 L217.73 517.68 L218.73 518.16 L219.74 518.63 L220.74 519.11 L221.74 519.59 L222.74 520.07 L223.74 520.55 L224.75 521.03 L225.75 521.52 L226.75 522.00 L227.75 522.49 L228.75 522.98 L229.76 523.48 L230.76 523.97 L231.76 524.46 L232.76 524.96 L233.76 525.46 L234.77 525.96 L235.77 526.46 L236.77 526.96 L237.77 527.47 L238.78 527.97 L239.78 528.48 L240.78 528.99 L241.78 529.49 L242.78 530.00 L243.79 530.52 L244.79 531.03 L245.79 531.54 L246.79 532.06 L247.79 532.57 L248.80 533.09 L249.80 533.61 L250.80 534.13 L251.80 534.65 L252.80 535.17 L253.81 535.69 L254.81 536.21 L255.81 536.74 L256.81 537.26 L257.82 537.79 L258.82 538.32 L259.82 538.84 L260.82 539.37 L261.82 539.90 L262.83 540.43 L263.83 540.96 L264.83 541.49 L265.83 542.02 L266.83 542.55 L267.84 543.08 L268.84 543.62 L269.84 544.15 L270.84 544.68 L271.84 545.22 L272.85 545.75 L273.85 546.29 L274.85 546.82 L275.85 547.36 L276.85 547.90 L277.86 548.43 L278.86 548.97 L279.86 549.50 L280.86 550.04 L281.87 550.58 L282.87 551.12 L283.87 551.65 L284.87 552.19 L285.87 552.73 L286.88 553.27 L287.88 553.80 L288.88 554.34 L289.88 554.88 L290.88 555.41 L291.89 555.95 L292.89 556.49 L293.89 557.03 L294.89 557.56 L295.89 558.10 L296.90 558.63 L297.90 559.17 L298.90 559.71 L299.90 560.24 L300.91 560.78 L301.91 561.31 L302.91 561.84 L303.91 562.38 L304.91 562.91 L305.92 563.44 L306.92 563.97 L307.92 564.51 L308.92 565.04 L309.92 565.57 L310.93 566.10 L311.93 566.63 L312.93 567.15 L313.93 567.68 L314.93 568.21 L315.94 568.73 L316.94 569.26 L317.94 569.78 L318.94 570.31 L319.94 570.83 L320.95 571.35 L321.95 571.87 L322.95 572.39 L323.95 572.91 L324.96 573.43 L325.96 573.94 L326.96 574.46 L327.96 574.97 L328.96 575.48 L329.97 575.99 L330.97 576.49 L331.97 576.99 L332.97 577.49 L333.97 577.99 L334.98 578.48 L335.98 578.97 L336.98 579.46 L337.98 579.94 L338.98 580.42 L339.99 580.89 L340.99 581.36 L341.99 581.83 L342.99 582.28 L343.99 582.74 L345.00 583.19 L346.00 583.63 L347.00 584.07 L348.00 584.50 L349.01 584.92 L350.01 585.34 L351.01 585.75 L352.01 586.15 L353.01 586.55 L354.02 586.94 L355.02 587.33 L356.02 587.70 L357.02 588.07 L358.02 588.43 L359.03 588.79 L360.03 589.14 L361.03 589.48 L362.03 589.82 L363.03 590.14 L364.04 590.47 L365.04 590.78 L366.04 591.09 L367.04 591.39 L368.05 591.68 L369.05 591.97 L370.05 592.25 L371.05 592.52 L372.05 592.78 L373.06 593.04 L374.06 593.29 L375.06 593.53 L376.06 593.77 L377.06 594.00 L378.07 594.22 L379.07 594.44 L380.07 594.64 L381.07 594.85 L382.07 595.04 L383.08 595.23 L384.08 595.41 L385.08 595.58 L386.08 595.75 L387.08 595.91 L388.09 596.07 L389.09 596.22 L390.09 596.36 L391.09 596.50 L392.10 596.63 L393.10 596.76 L394.10 596.88 L395.10 597.00 L396.10 597.11 L397.11 597.22 L398.11 597.32 L399.11 597.41 L400.11 597.51 L401.11 597.60 L402.12 597.68 L403.12 597.76 L404.12 597.83 L405.12 597.91 L406.12 597.97 L407.13 598.04 L408.13 598.10 L409.13 598.16 L410.13 598.21 L411.14 598.26 L412.14 598.31 L413.14 598.35 L414.14 598.40 L415.14 598.44 L416.15 598.47 L417.15 598.51 L418.15 598.54 L419.15 598.57 L420.15 598.60 L421.16 598.62 L422.16 598.65 L423.16 598.67 L424.16 598.69 L425.16 598.71 L426.17 598.73 L427.17 598.75 L428.17 598.76 L429.17 598.78 L430.17 598.79 L431.18 598.81 L432.18 598.82 L433.18 598.84 L434.18 598.85 L435.19 598.86 L436.19 598.88 L437.19 598.89 L438.19 598.90 L439.19 598.92 L440.20 598.93 L441.20 598.94 L442.20 598.96" stroke="#000" stroke-width="1.7"/>
<path d="M202.70 383.59 L203.70 385.01 L204.70 386.44 L205.71 387.87 L206.71 389.30 L207.71 390.74 L208.71 392.19 L209.71 393.64 L210.72 395.09 L211.72 396.55 L212.72 398.01 L213.72 399.48 L214.73 400.95 L215.73 402.42 L216.73 403.90 L217.73 405.38 L218.73 406.86 L219.74 408.34 L220.74 409.82 L221.74 411.31 L222.74 412.80 L223.74 414.29 L224.75 415.78 L225.75 417.26 L226.75 418.75 L227.75 420.24 L228.75 421.73 L229.76 423.22 L230.76 424.71 L231.76 426.20 L232.76 427.68 L233.76 429.17 L234.77 430.65 L235.77 432.13 L236.77 433.60 L237.77 435.08 L238.78 436.55 L239.78 438.02 L240.78 439.48 L241.78 440.94 L242.78 442.40 L243.79 443.85 L244.79 445.30 L245.79 446.74 L246.79 448.18 L247.79 449.62 L248.80 451.04 L249.80 452.46 L250.80 453.88 L251.80 455.29 L252.80 456.69 L253.81 458.09 L254.81 459.48 L255.81 460.87 L256.81 462.26 L257.82 463.64 L258.82 465.02 L259.82 466.40 L260.82 467.78 L261.82 469.16 L262.83 470.54 L263.83 471.92 L264.83 473.30 L265.83 474.68 L266.83 476.07 L267.84 477.46 L268.84 478.85 L269.84 480.25 L270.84 481.65 L271.84 483.06 L272.85 484.47 L273.85 485.89 L274.85 487.32 L275.85 488.74 L276.85 490.18 L277.86 491.61 L278.86 493.06 L279.86 494.50 L280.86 495.95 L281.87 497.40 L282.87 498.85 L283.87 500.31 L284.87 501.76 L285.87 503.22 L286.88 504.69 L287.88 506.15 L288.88 507.61 L289.88 509.08 L290.88 510.54 L291.89 512.01 L292.89 513.47 L293.89 514.94 L294.89 516.40 L295.89 517.86 L296.90 519.33 L297.90 520.79 L298.90 522.25 L299.90 523.70 L300.91 525.16 L301.91 526.61 L302.91 528.06 L303.91 529.51 L304.91 530.95 L305.92 532.39 L306.92 533.82 L307.92 535.25 L308.92 536.68 L309.92 538.10 L310.93 539.52 L311.93 540.93 L312.93 542.34 L313.93 543.74 L314.93 545.13 L315.94 546.52 L316.94 547.90 L317.94 549.27 L318.94 550.63 L319.94 551.98 L320.95 553.32 L321.95 554.64 L322.95 555.96 L323.95 557.26 L324.96 558.54 L325.96 559.81 L326.96 561.06 L327.96 562.30 L328.96 563.52 L329.97 564.72 L330.97 565.89 L331.97 567.05 L332.97 568.19 L333.97 569.30 L334.98 570.39 L335.98 571.46 L336.98 572.50 L337.98 573.52 L338.98 574.51 L339.99 575.47 L340.99 576.40 L341.99 577.31 L342.99 578.19 L343.99 579.04 L345.00 579.86 L346.00 580.65 L347.00 581.42 L348.00 582.16 L349.01 582.87 L350.01 583.56 L351.01 584.22 L352.01 584.85 L353.01 585.46 L354.02 586.05 L355.02 586.61 L356.02 587.14 L357.02 587.66 L358.02 588.15 L359.03 588.61 L360.03 589.06 L361.03 589.49 L362.03 589.89 L363.03 590.28 L364.04 590.65 L365.04 591.00 L366.04 591.33 L367.04 591.65 L368.05 591.95 L369.05 592.23 L370.05 592.50 L371.05 592.76 L372.05 593.00 L373.06 593.23 L374.06 593.44 L375.06 593.65 L376.06 593.84 L377.06 594.03 L378.07 594.20 L379.07 594.37 L380.07 594.52 L381.07 594.67 L382.07 594.81 L383.08 594.95 L384.08 595.08 L385.08 595.20 L386.08 595.32 L387.08 595.44 L388.09 595.55 L389.09 595.66 L390.09 595.77 L391.09 595.88 L392.10 595.98 L393.10 596.09 L394.10 596.19 L395.10 596.30 L396.10 596.41 L397.11 596.51 L398.11 596.62 L399.11 596.72 L400.11 596.83 L401.11 596.93 L402.12 597.03 L403.12 597.13 L404.12 597.24 L405.12 597.33 L406.12 597.43 L407.13 597.53 L408.13 597.62 L409.13 597.72 L410.13 597.81 L411.14 597.90 L412.14 597.99 L413.14 598.07 L414.14 598.16 L415.14 598.24 L416.15 598.31 L417.15 598.39 L418.15 598.46 L419.15 598.53 L420.15 598.60 L421.16 598.66 L422.16 598.72 L423.16 598.78 L424.16 598.83 L425.16 598.88 L426.17 598.92 L427.17 598.97 L428.17 599.00 L429.17 599.04 L430.17 599.06 L431.18 599.09 L432.18 599.11 L433.18 599.12 L434.18 599.13 L435.19 599.14 L436.19 599.14 L437.19 599.13 L438.19 599.12 L439.19 599.11 L440.20 599.09 L441.20 599.06 L442.20 599.03" stroke="#9acd32" stroke-width="1.8" stroke-dasharray="1.8 2.95"/>
<path d="M329.10 579.52 L329.57 579.76 L330.05 579.99 L330.52 580.22 L330.99 580.45 L331.47 580.68 L331.94 580.91 L332.41 581.14 L332.89 581.36 L333.36 581.58 L333.83 581.80 L334.31 582.02 L334.78 582.23 L335.25 582.45 L335.73 582.66 L336.20 582.87 L336.67 583.08 L337.14 583.29 L337.62 583.49 L338.09 583.69 L338.56 583.90 L339.04 584.10 L339.51 584.29 L339.98 584.49 L340.46 584.69 L340.93 584.88 L341.40 585.07 L341.88 585.26 L342.35 585.45 L342.82 585.63 L343.30 585.82 L343.77 586.00 L344.24 586.18 L344.72 586.36 L345.19 586.54 L345.66 586.71 L346.14 586.89 L346.61 587.06 L347.08 587.23 L347.56 587.40 L348.03 587.57 L348.50 587.73 L348.98 587.90 L349.45 588.06 L349.92 588.22 L350.39 588.38 L350.87 588.54 L351.34 588.69 L351.81 588.85 L352.29 589.00 L352.76 589.15 L353.23 589.30 L353.71 589.45 L354.18 589.60 L354.65 589.75 L355.13 589.89 L355.60 590.03 L356.07 590.17 L356.55 590.31 L357.02 590.45 L357.49 590.59 L357.97 590.72 L358.44 590.86 L358.91 590.99 L359.39 591.12 L359.86 591.25 L360.33 591.38 L360.81 591.51 L361.28 591.63 L361.75 591.76 L362.23 591.88 L362.70 592.00 L363.17 592.12 L363.65 592.24 L364.12 592.36 L364.59 592.47 L365.06 592.59 L365.54 592.70 L366.01 592.81 L366.48 592.92 L366.96 593.03 L367.43 593.14 L367.90 593.24 L368.38 593.35 L368.85 593.45 L369.32 593.56 L369.80 593.66 L370.27 593.76 L370.74 593.86 L371.22 593.95 L371.69 594.05 L372.16 594.15 L372.64 594.24 L373.11 594.33 L373.58 594.42 L374.06 594.52 L374.53 594.60 L375.00 594.69 L375.48 594.78 L375.95 594.87 L376.42 594.95 L376.90 595.03 L377.37 595.12 L377.84 595.20 L378.32 595.28 L378.79 595.36 L379.26 595.43 L379.73 595.51 L380.21 595.59 L380.68 595.66 L381.15 595.73 L381.63 595.81 L382.10 595.88 L382.57 595.95 L383.05 596.02 L383.52 596.09 L383.99 596.15 L384.47 596.22 L384.94 596.28 L385.41 596.35 L385.89 596.41 L386.36 596.47 L386.83 596.54 L387.31 596.60 L387.78 596.65 L388.25 596.71 L388.73 596.77 L389.20 596.83 L389.67 596.88 L390.15 596.94 L390.62 596.99 L391.09 597.04 L391.57 597.10 L392.04 597.15 L392.51 597.20 L392.98 597.25 L393.46 597.29 L393.93 597.34 L394.40 597.39 L394.88 597.43 L395.35 597.48 L395.82 597.52 L396.30 597.57 L396.77 597.61 L397.24 597.65 L397.72 597.69 L398.19 597.73 L398.66 597.77 L399.14 597.81 L399.61 597.85 L400.08 597.88 L400.56 597.92 L401.03 597.95 L401.50 597.99 L401.98 598.02 L402.45 598.06 L402.92 598.09 L403.40 598.12 L403.87 598.15 L404.34 598.18 L404.82 598.21 L405.29 598.24 L405.76 598.27 L406.24 598.30 L406.71 598.32 L407.18 598.35 L407.65 598.38 L408.13 598.40 L408.60 598.43 L409.07 598.45 L409.55 598.47 L410.02 598.50 L410.49 598.52 L410.97 598.54 L411.44 598.56 L411.91 598.58 L412.39 598.60 L412.86 598.62 L413.33 598.64 L413.81 598.66 L414.28 598.68 L414.75 598.69 L415.23 598.71 L415.70 598.73 L416.17 598.74 L416.65 598.76 L417.12 598.77 L417.59 598.79 L418.07 598.80 L418.54 598.81 L419.01 598.83 L419.49 598.84 L419.96 598.85 L420.43 598.86 L420.91 598.87 L421.38 598.89 L421.85 598.90 L422.32 598.91 L422.80 598.92 L423.27 598.92 L423.74 598.93 L424.22 598.94 L424.69 598.95 L425.16 598.96 L425.64 598.97 L426.11 598.97 L426.58 598.98 L427.06 598.99 L427.53 598.99 L428.00 599.00 L428.48 599.00 L428.95 599.01 L429.42 599.01 L429.90 599.02 L430.37 599.02 L430.84 599.03 L431.32 599.03 L431.79 599.04 L432.26 599.04 L432.74 599.04 L433.21 599.05 L433.68 599.05 L434.16 599.05 L434.63 599.05 L435.10 599.06 L435.57 599.06 L436.05 599.06 L436.52 599.06 L436.99 599.06 L437.47 599.07 L437.94 599.07 L438.41 599.07 L438.89 599.07 L439.36 599.07 L439.83 599.07 L440.31 599.07 L440.78 599.07 L441.25 599.07 L441.73 599.07 L442.20 599.08" stroke="#dc143c" stroke-width="1.8" stroke-dasharray="6.6 1.6"/>
<path d="M275.50 534.21 L276.20 535.26 L276.89 536.30 L277.59 537.33 L278.29 538.35 L278.99 539.36 L279.68 540.36 L280.38 541.35 L281.08 542.33 L281.78 543.30 L282.47 544.26 L283.17 545.21 L283.87 546.15 L284.57 547.08 L285.26 547.99 L285.96 548.90 L286.66 549.79 L287.36 550.67 L288.05 551.54 L288.75 552.40 L289.45 553.24 L290.15 554.08 L290.84 554.90 L291.54 555.71 L292.24 556.50 L292.94 557.29 L293.63 558.06 L294.33 558.82 L295.03 559.56 L295.73 560.29 L296.42 561.01 L297.12 561.71 L297.82 562.41 L298.52 563.09 L299.21 563.75 L299.91 564.41 L300.61 565.05 L301.31 565.68 L302.00 566.30 L302.70 566.91 L303.40 567.51 L304.10 568.10 L304.79 568.67 L305.49 569.24 L306.19 569.79 L306.89 570.34 L307.58 570.87 L308.28 571.40 L308.98 571.91 L309.68 572.42 L310.37 572.92 L311.07 573.41 L311.77 573.89 L312.47 574.36 L313.16 574.82 L313.86 575.28 L314.56 575.73 L315.26 576.17 L315.95 576.60 L316.65 577.02 L317.35 577.44 L318.05 577.86 L318.74 578.26 L319.44 578.66 L320.14 579.05 L320.84 579.44 L321.53 579.82 L322.23 580.19 L322.93 580.56 L323.63 580.93 L324.32 581.29 L325.02 581.64 L325.72 581.99 L326.42 582.34 L327.11 582.67 L327.81 583.01 L328.51 583.34 L329.21 583.66 L329.90 583.98 L330.60 584.30 L331.30 584.61 L332.00 584.91 L332.69 585.21 L333.39 585.51 L334.09 585.80 L334.79 586.09 L335.48 586.37 L336.18 586.65 L336.88 586.92 L337.58 587.19 L338.27 587.46 L338.97 587.72 L339.67 587.97 L340.37 588.22 L341.06 588.47 L341.76 588.72 L342.46 588.95 L343.16 589.19 L343.85 589.42 L344.55 589.65 L345.25 589.87 L345.95 590.09 L346.64 590.30 L347.34 590.52 L348.04 590.72 L348.74 590.93 L349.43 591.13 L350.13 591.32 L350.83 591.51 L351.53 591.70 L352.22 591.89 L352.92 592.07 L353.62 592.25 L354.32 592.42 L355.01 592.59 L355.71 592.76 L356.41 592.92 L357.11 593.09 L357.80 593.24 L358.50 593.40 L359.20 593.55 L359.90 593.70 L360.59 593.84 L361.29 593.98 L361.99 594.12 L362.69 594.26 L363.38 594.39 L364.08 594.52 L364.78 594.64 L365.48 594.77 L366.17 594.89 L366.87 595.00 L367.57 595.12 L368.27 595.23 L368.96 595.34 L369.66 595.45 L370.36 595.55 L371.06 595.65 L371.75 595.75 L372.45 595.85 L373.15 595.94 L373.85 596.03 L374.54 596.12 L375.24 596.21 L375.94 596.29 L376.64 596.38 L377.33 596.46 L378.03 596.53 L378.73 596.61 L379.43 596.68 L380.12 596.75 L380.82 596.82 L381.52 596.89 L382.22 596.96 L382.91 597.02 L383.61 597.08 L384.31 597.14 L385.01 597.20 L385.70 597.25 L386.40 597.31 L387.10 597.36 L387.80 597.41 L388.49 597.46 L389.19 597.50 L389.89 597.55 L390.59 597.59 L391.28 597.64 L391.98 597.68 L392.68 597.72 L393.38 597.76 L394.07 597.79 L394.77 597.83 L395.47 597.86 L396.17 597.90 L396.86 597.93 L397.56 597.96 L398.26 597.99 L398.96 598.02 L399.65 598.04 L400.35 598.07 L401.05 598.10 L401.75 598.12 L402.44 598.14 L403.14 598.17 L403.84 598.19 L404.54 598.21 L405.23 598.23 L405.93 598.25 L406.63 598.27 L407.33 598.29 L408.02 598.31 L408.72 598.32 L409.42 598.34 L410.12 598.36 L410.81 598.37 L411.51 598.39 L412.21 598.40 L412.91 598.42 L413.60 598.43 L414.30 598.45 L415.00 598.46 L415.70 598.47 L416.39 598.49 L417.09 598.50 L417.79 598.52 L418.49 598.53 L419.18 598.54 L419.88 598.56 L420.58 598.57 L421.28 598.58 L421.97 598.60 L422.67 598.61 L423.37 598.63 L424.07 598.64 L424.76 598.66 L425.46 598.67 L426.16 598.69 L426.86 598.70 L427.55 598.72 L428.25 598.74 L428.95 598.75 L429.65 598.77 L430.34 598.79 L431.04 598.81 L431.74 598.83 L432.44 598.85 L433.13 598.87 L433.83 598.90 L434.53 598.92 L435.23 598.94 L435.92 598.97 L436.62 598.99 L437.32 599.02 L438.02 599.05 L438.71 599.08 L439.41 599.11 L440.11 599.14 L440.81 599.17 L441.50 599.20 L442.20 599.20" stroke="#0000ff" stroke-width="1.8" stroke-dasharray="1.8 2.95"/>
</g>
<path d="M258.19 599.40 v-6.0 M258.19 359.50 v6.0 M290.59 599.40 v-6.0 M290.59 359.50 v6.0 M313.58 599.40 v-6.0 M313.58 359.50 v6.0 M331.42 599.40 v-6.0 M331.42 359.50 v6.0 M345.99 599.40 v-6.0 M345.99 359.50 v6.0 M358.30 599.40 v-6.0 M358.30 359.50 v6.0 M368.98 599.40 v-6.0 M368.98 359.50 v6.0 M378.39 599.40 v-6.0 M378.39 359.50 v6.0 M386.81 599.40 v-6.0 M386.81 359.50 v6.0 M202.80 587.40 h5.7 M442.20 587.40 h-5.7 M202.80 575.41 h11.3 M442.20 575.41 h-11.3 M202.80 563.41 h5.7 M442.20 563.41 h-5.7 M202.80 551.42 h11.3 M442.20 551.42 h-11.3 M202.80 539.42 h5.7 M442.20 539.42 h-5.7 M202.80 527.43 h11.3 M442.20 527.43 h-11.3 M202.80 515.43 h5.7 M442.20 515.43 h-5.7 M202.80 503.44 h11.3 M442.20 503.44 h-11.3 M202.80 491.44 h5.7 M442.20 491.44 h-5.7 M202.80 479.45 h11.3 M442.20 479.45 h-11.3 M202.80 467.46 h5.7 M442.20 467.46 h-5.7 M202.80 455.46 h11.3 M442.20 455.46 h-11.3 M202.80 443.47 h5.7 M442.20 443.47 h-5.7 M202.80 431.47 h11.3 M442.20 431.47 h-11.3 M202.80 419.48 h5.7 M442.20 419.48 h-5.7 M202.80 407.48 h11.3 M442.20 407.48 h-11.3 M202.80 395.49 h5.7 M442.20 395.49 h-5.7 M202.80 383.49 h11.3 M442.20 383.49 h-11.3 M202.80 371.50 h5.7 M442.20 371.50 h-5.7" stroke="#222" stroke-width="1" fill="none"/>
<rect x="202.80" y="359.50" width="239.40" height="239.90" fill="none" stroke="#222" stroke-width="1.1"/>
<text x="192.8" y="556.82" font-size="16" text-anchor="end">10</text>
<text x="192.8" y="508.84" font-size="16" text-anchor="end">20</text>
<text x="192.8" y="460.86" font-size="16" text-anchor="end">30</text>
<text x="192.8" y="412.88" font-size="16" text-anchor="end">40</text>
<text x="192.8" y="364.90" font-size="16" text-anchor="end">50</text>
<text x="202.80" y="620.0" font-size="16" text-anchor="middle">10</text>
<text x="258.19" y="620.0" font-size="16" text-anchor="middle">20</text>
<text x="331.42" y="620.0" font-size="16" text-anchor="middle">50</text>
<text x="386.81" y="620.0" font-size="16" text-anchor="middle">100</text>
<text x="442.20" y="620.0" font-size="16" text-anchor="middle">200</text>
<rect x="482.50" y="80.00" width="227.70" height="223.40" fill="#fff" stroke="#222" stroke-width="1.1"/>
<text x="557.6" y="104.50" font-size="19.4" fill="#000">p <tspan font-weight="bold">+</tspan> CH<tspan font-size="13.5" dy="4.5">4</tspan></text>
<text x="557.6" y="128.00" font-size="19.4" fill="#000">IAM-PCM</text>
<text x="557.6" y="151.50" font-size="19.4" fill="#000">IAM-AR</text>
<text x="557.6" y="175.00" font-size="19.4" fill="#000">CNDO</text>
<text x="557.6" y="198.50" font-size="19.4" fill="#000">CDW-EIS-CNDO</text>
<text x="557.6" y="222.00" font-size="19.4" fill="#000">DW-CNDO</text>
<text x="557.6" y="245.50" font-size="19.4" fill="#000">Rudd83</text>
<text x="557.6" y="269.00" font-size="19.4" fill="#000">Toburen68</text>
<text x="557.6" y="292.50" font-size="19.4" fill="#000">Sanders03</text>
<path d="M513 121.00 H548.8" stroke="#000" stroke-width="1.7" fill="none"/>
<path d="M513 144.50 H548.8" stroke="#008000" stroke-width="1.6" fill="none" stroke-dasharray="14.4 3"/>
<path d="M513 168.00 H548.8" stroke="#9acd32" stroke-width="1.8" fill="none" stroke-dasharray="1.8 2.95"/>
<path d="M513 191.50 H548.8" stroke="#dc143c" stroke-width="1.8" fill="none" stroke-dasharray="6.6 1.6"/>
<path d="M513 215.00 H548.8" stroke="#0000ff" stroke-width="1.8" fill="none" stroke-dasharray="1.8 2.95"/>
<rect x="159.05" y="80.00" width="551.15" height="551.00" fill="none" stroke="#505050" stroke-width="1.5" stroke-linejoin="round"/>
<circle cx="498.50" cy="239.00" r="5.35" fill="none" stroke="#000" stroke-width="0.95"/>
<rect x="493.00" y="257.20" width="11.0" height="11.0" fill="none" stroke="#993399" stroke-width="1.15"/>
<path d="M498.50 279.25 L503.70 289.85 L493.30 289.85 Z" fill="none" stroke="#0000ff" stroke-width="1.1" stroke-linejoin="miter"/>
</svg>
</body></html>
